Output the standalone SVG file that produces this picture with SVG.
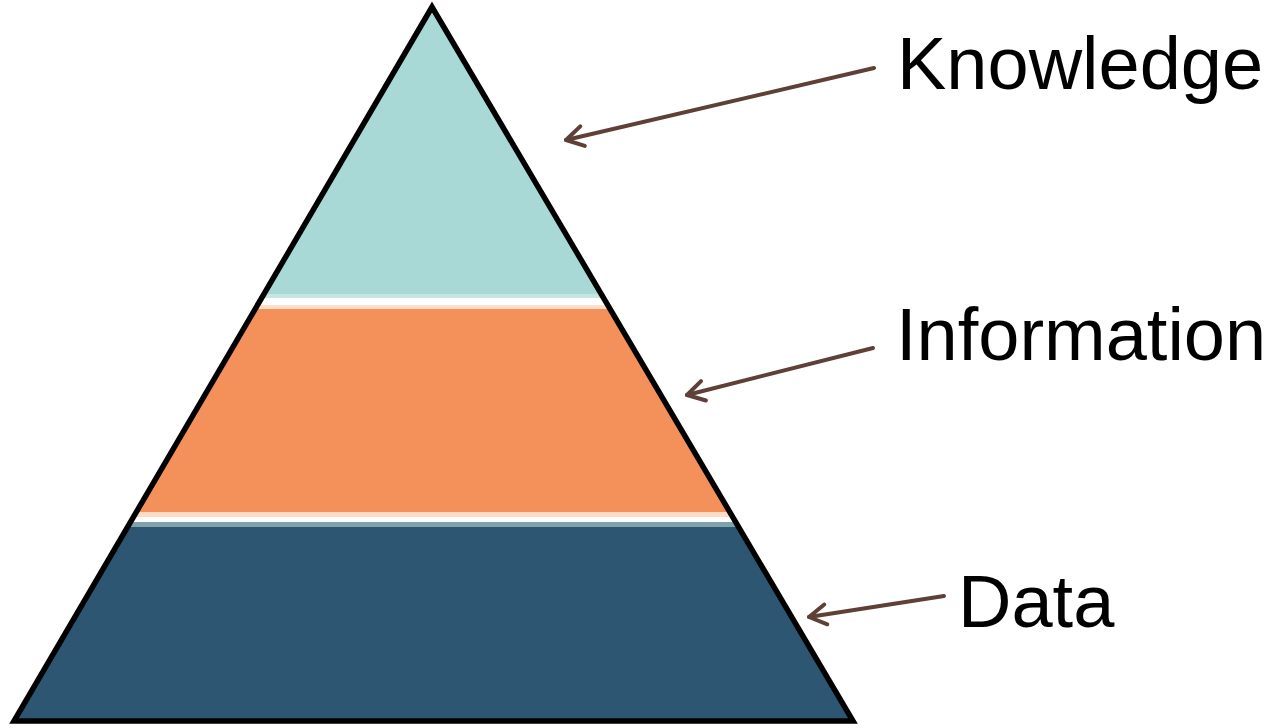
<svg xmlns="http://www.w3.org/2000/svg" width="1270" height="728" viewBox="0 0 1270 728">
  <style>
    .label { font-family: "Liberation Sans", Arial, sans-serif; font-size: 74px; fill: #000; }
    .link { stroke: #5E4037; stroke-width: 4; fill: none; stroke-linecap: round; }
    .outline { fill: none; stroke: #000; stroke-width: 5.5; stroke-linejoin: miter; }
  </style>
  <defs>
    <clipPath id="pyramid-clip">
      <polygon points="432,7 14,721 853,721"/>
    </clipPath>
    <!-- open V arrowhead, tip at the line end -->
    <marker id="open-arrow" markerUnits="userSpaceOnUse" markerWidth="30" markerHeight="30" refX="27" refY="12" viewBox="0 0 30 24" orient="auto">
      <path d="M 10 2 L 27 12 L 10 22" fill="none" stroke="#5E4037" stroke-width="4" stroke-linecap="round" stroke-linejoin="round"/>
    </marker>
  </defs>

  <rect width="1270" height="728" fill="#FFFFFF"/>

  <!-- pyramid layers -->
  <g id="pyramid" clip-path="url(#pyramid-clip)">
    <g id="layer-knowledge">
      <rect x="0" y="0" width="900" height="294" fill="#A8D9D6"/>
      <rect x="0" y="294" width="900" height="4" fill="#C6E5E0"/>
    </g>
    <g id="layer-information">
      <rect x="0" y="305" width="900" height="4" fill="#FDDFC8"/>
      <rect x="0" y="309" width="900" height="203" fill="#F4915A"/>
      <rect x="0" y="512" width="900" height="5" fill="#FCDCC4"/>
    </g>
    <g id="layer-data">
      <rect x="0" y="522" width="900" height="5" fill="#7FA2AC"/>
      <rect x="0" y="527" width="900" height="200" fill="#2D5672"/>
    </g>
  </g>
  <polygon id="pyramid-outline" class="outline" points="432,7 14,721 853,721"/>

  <!-- labels -->
  <g id="knowledge">
    <text class="label" x="897" y="89">Knowledge</text>
  </g>
  <g id="information">
    <text class="label" x="896" y="360">Information</text>
  </g>
  <g id="data">
    <text class="label" x="958" y="627">Data</text>
  </g>

  <!-- arrows from labels to layers -->
  <g id="connectors">
    <line class="link" x1="874" y1="68" x2="566" y2="140" marker-end="url(#open-arrow)"/>
    <line class="link" x1="873" y1="348" x2="687" y2="395" marker-end="url(#open-arrow)"/>
    <line class="link" x1="944" y1="596" x2="809" y2="617" marker-end="url(#open-arrow)"/>
  </g>
</svg>
